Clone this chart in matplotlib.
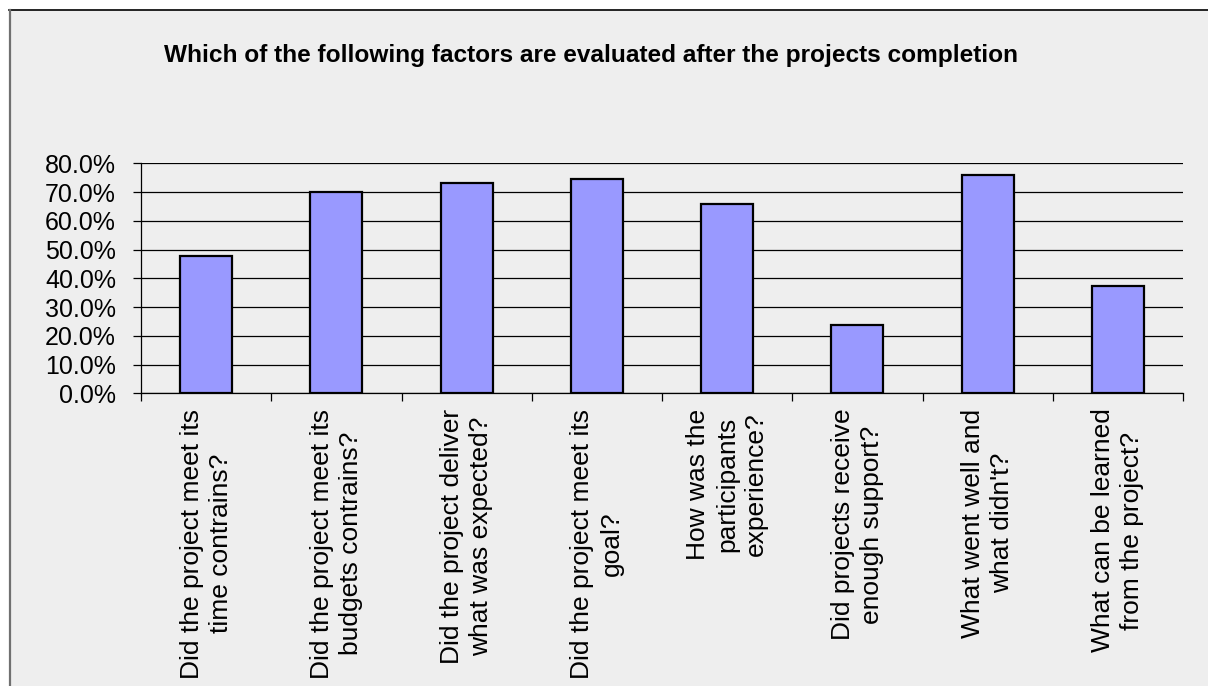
import matplotlib
matplotlib.use("Agg")
import matplotlib.pyplot as plt
from matplotlib.patches import Rectangle
from matplotlib.lines import Line2D
from matplotlib.ticker import PercentFormatter, FixedLocator

# Survey answers: share of respondents per evaluated factor
categories = [
    "Did the project meet its\ntime contrains?",
    "Did the project meet its\nbudgets contrains?",
    "Did the project deliver\nwhat was expected?",
    "Did the project meet its\ngoal?",
    "How was the\nparticipants\nexperience?",
    "Did projects receive\nenough support?",
    "What went well and\nwhat didn't?",
    "What can be learned\nfrom the project?",
]
shares = [0.478, 0.701, 0.731, 0.746, 0.657, 0.239, 0.761, 0.373]
y_ticks = [0.0, 0.1, 0.2, 0.3, 0.4, 0.5, 0.6, 0.7, 0.8]
title = "Which of the following factors are evaluated after the projects completion"

body_font = ["Liberation Sans", "DejaVu Sans"]

W, H = 1208, 686
fig = plt.figure(figsize=(W / 100, H / 100), dpi=100, facecolor="white")

# chart area panel with its frame lines
fig.patches.append(Rectangle((9.5 / W, 0), 1 - 9.5 / W, (H - 10) / H,
                             transform=fig.transFigure, facecolor="#eeeeee",
                             edgecolor="none", zorder=-3))
fig.lines.append(Line2D([9 / W, 1], [(H - 10) / H] * 2, transform=fig.transFigure,
                        color="black", lw=1.2, zorder=-2))
fig.lines.append(Line2D([10 / W] * 2, [0, (H - 10) / H], transform=fig.transFigure,
                        color="#707070", lw=1.6, zorder=-2))

left, right, top, bottom = 141, 1183, 163.3, 393.3
ax = fig.add_axes([left / W, (H - bottom) / H, (right - left) / W, (bottom - top) / H])
ax.set_facecolor("none")

x = list(range(len(categories)))
ax.bar(x, shares, width=0.4, color="#9999ff", edgecolor="black", linewidth=1.6, zorder=3)

ax.set_xlim(-0.5, len(categories) - 0.5)
ax.set_ylim(0, 0.8)
ax.set_yticks(y_ticks)
ax.yaxis.set_major_formatter(PercentFormatter(1.0, decimals=1))
ax.yaxis.grid(True, color="black", linewidth=0.9, zorder=1)
ax.set_axisbelow(True)

# boundary ticks between categories, labels centred under bars
ax.xaxis.set_major_locator(FixedLocator([i - 0.5 for i in range(len(categories) + 1)]))
ax.set_xticklabels([""] * (len(categories) + 1))
ax.set_xticks(x, minor=True)
ax.set_xticklabels(categories, minor=True, rotation=90, ha="center", va="top",
                   multialignment="center", fontsize=19, family=body_font,
                   linespacing=1.27)
ax.tick_params(axis="x", which="major", length=5.5, width=0.9, direction="out", color="black")
ax.tick_params(axis="x", which="minor", length=0, pad=11)
ax.tick_params(axis="y", length=6, width=0.9, direction="out", pad=12, labelsize=18)
for lbl in ax.get_yticklabels():
    lbl.set_family(body_font)

for side in ("top", "right"):
    ax.spines[side].set_visible(False)
for side in ("left", "bottom"):
    ax.spines[side].set_linewidth(0.9)
    ax.spines[side].set_color("black")

fig.text(590.5 / W, (H - 61.7) / H, title, ha="center", va="baseline",
         fontsize=17.6, fontweight="bold", family=body_font)

fig.savefig("out.png", dpi=100, facecolor="white")
